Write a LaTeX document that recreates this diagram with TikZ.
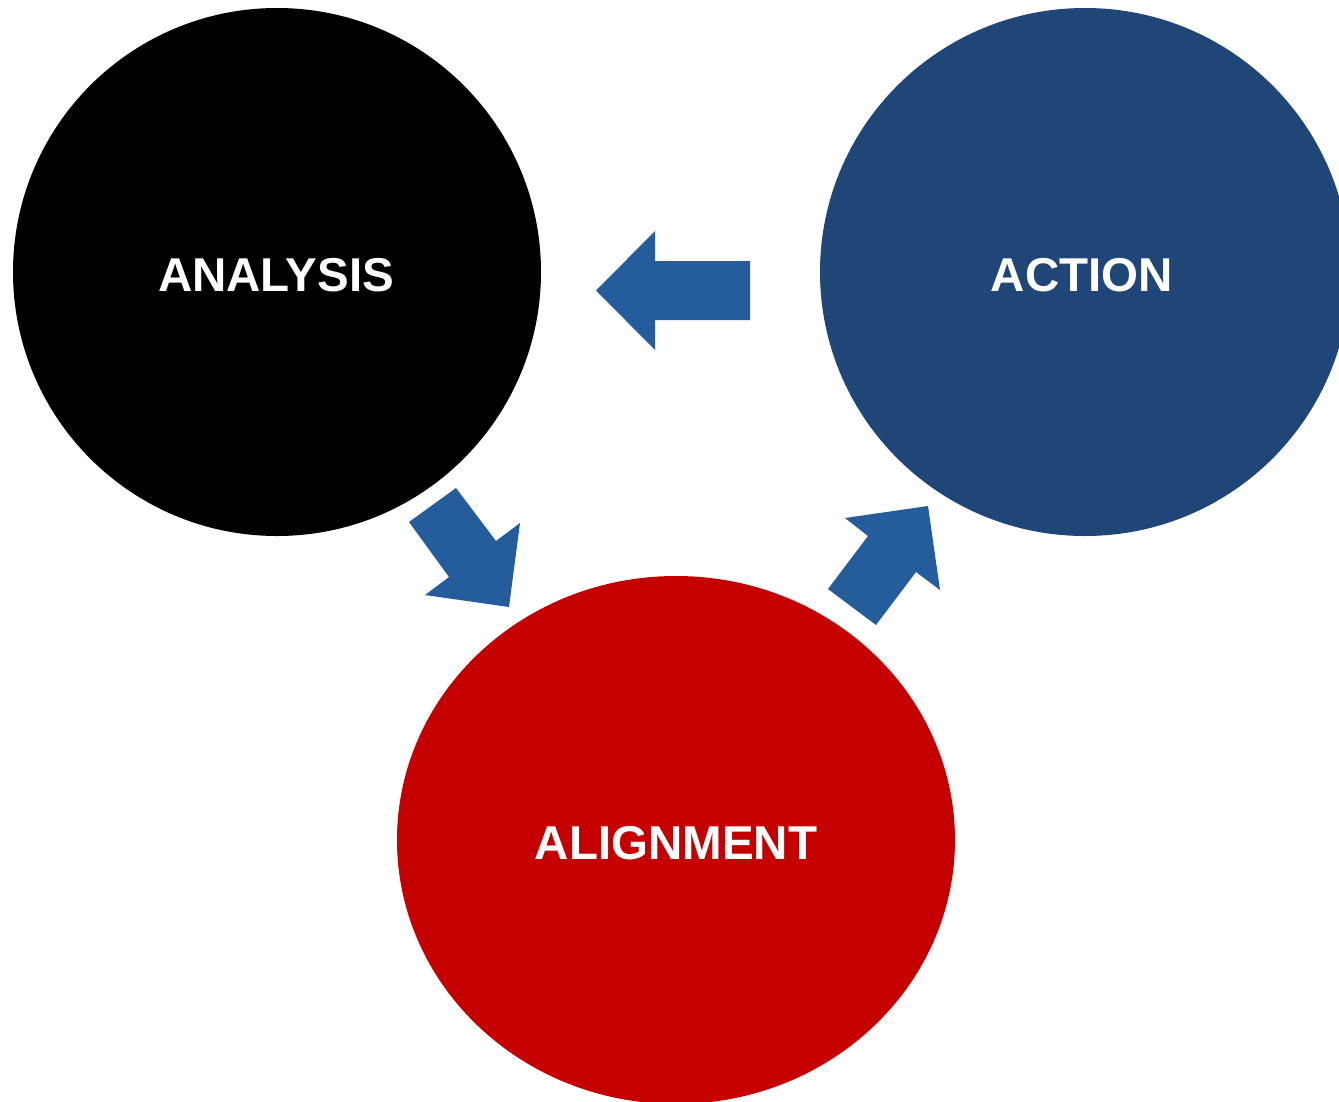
\documentclass[tikz,border=0pt]{standalone}
\usepackage{fontspec}
\setmainfont{Liberation Sans}
\usetikzlibrary{shapes.geometric}
\definecolor{arrowblue}{HTML}{255C9C}
\definecolor{actionblue}{HTML}{1F4676}
\definecolor{alignred}{HTML}{C50000}
\tikzset{
  bubble/.style={ellipse, inner sep=0pt, draw=none},
  label/.style={text=white, font=\fontsize{47.5}{57}\selectfont\bfseries, inner sep=0pt},
  blockarrow/.style={fill=arrowblue, draw=none}
}
\begin{document}
\begin{tikzpicture}[x=1pt,y=-1pt]
\clip (0,0) rectangle (1339,1101);
\fill[white] (0,0) rectangle (1339,1101);
\node[bubble, fill=black, minimum width=528pt, minimum height=528pt] (analysis) at (277,272) {};
\node[bubble, fill=actionblue, minimum width=530pt, minimum height=528pt] (action) at (1085,272) {};
\node[bubble, fill=alignred, minimum width=558pt, minimum height=528pt] (alignment) at (676,840) {};
\node[label] (tanalysis) at (276,275) {ANALYSIS};
\node[label] (taction) at (1082,275) {ACTION};
\node[label] (talignment) at (676,843) {ALIGNMENT};
% arrow from ACTION to ANALYSIS
\fill[blockarrow] (750,261) -- (655,261) -- (655,231) -- (596,290.5) -- (655,350) -- (655,320) -- (750,320) -- cycle;
% arrow from ANALYSIS to ALIGNMENT
\fill[blockarrow] (409,522) -- (456,488) -- (496,541) -- (520,523) -- (509,607) -- (425,595) -- (449,577) -- cycle;
% arrow from ALIGNMENT to ACTION
\fill[blockarrow] (828,589) -- (868,536) -- (845,518) -- (928,506) -- (940,590) -- (916,572) -- (876,625) -- cycle;
\end{tikzpicture}
\end{document}
